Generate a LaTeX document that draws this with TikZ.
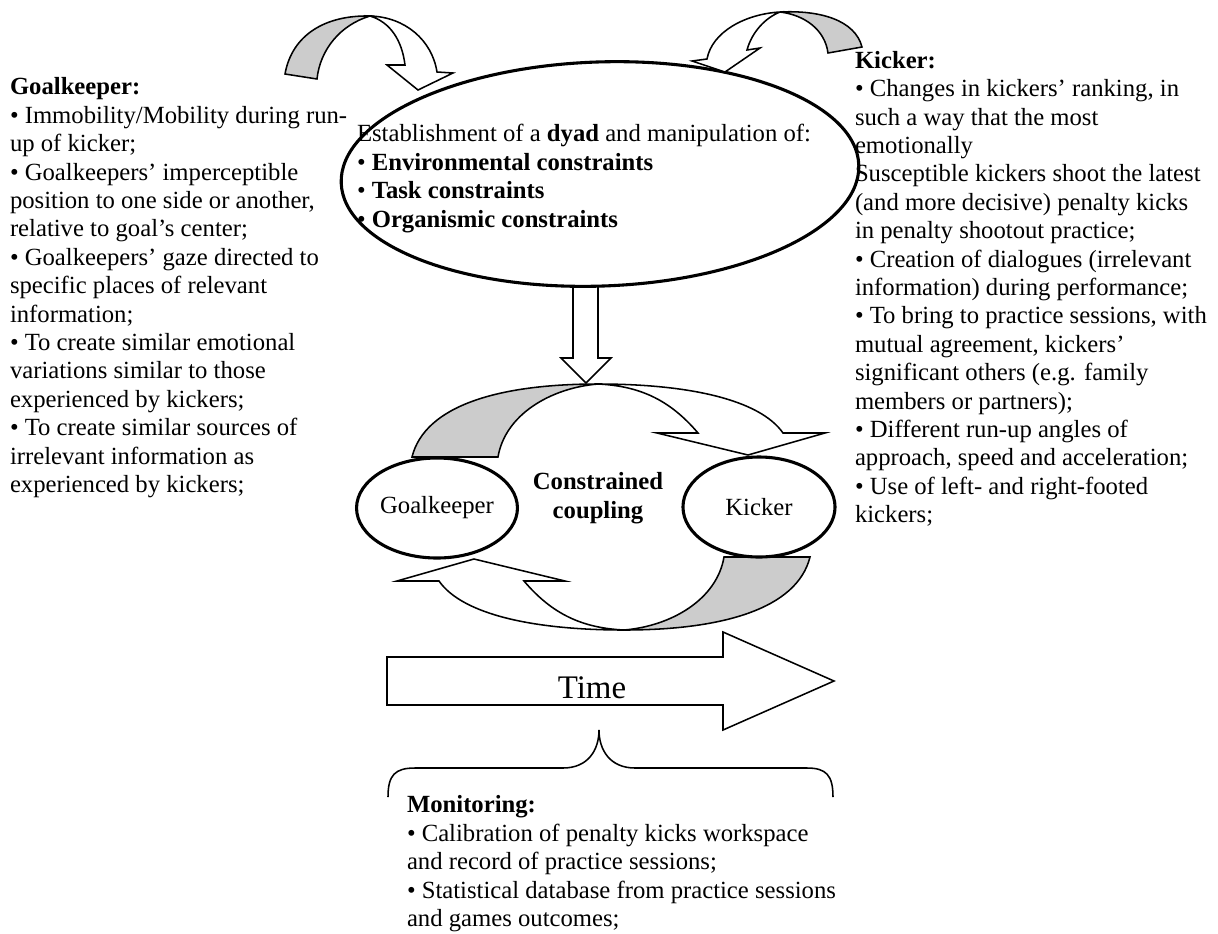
\documentclass[tikz,border=0pt]{standalone}
\usepackage{fontspec}
\setmainfont{Liberation Serif}
\usetikzlibrary{shapes.geometric}
\newcommand\cplarrow{%
  \draw[back] (412,457) .. controls (425,405) and (500,384) .. (598,384) .. controls (550,388) and (505,415) .. (498,457) -- cycle;
  \draw[blk] (598,384) .. controls (690,384) and (760,400) .. (783,433) -- (825,433) -- (748,455) -- (657,433) -- (698,433) .. controls (670,400) and (640,386) .. (598,384) -- cycle;
}
\begin{document}
\begin{tikzpicture}[x=0.486pt,y=-0.486pt,
  txt/.style={inner sep=0pt, outer sep=0pt, align=left, anchor=north west, font=\fontsize{12}{13.8}\selectfont},
  ell/.style={draw, ellipse, line width=1.5pt, fill=white, inner sep=0pt, font=\fontsize{12}{13.8}\selectfont},
  blk/.style={draw, line width=0.75pt, fill=white, line join=miter},
  back/.style={draw, line width=0.75pt, fill=black!20},
  brace/.style={draw, line width=0.75pt}
]
\useasboundingbox (0,0) rectangle (1218,933);

% down block arrow
\draw[blk] (573,270) -- (573,358) -- (561,358) -- (586,383) -- (611,358) -- (598,358) -- (598,270) -- cycle;

% big ellipse
\node[ell, minimum width=251.7pt, minimum height=108.9pt, rotate=2] (dyad) at (600,174) {};
\node[txt] (dyadtext) at (357,122.1) {\strut Establishment of a \textbf{dyad} and manipulation of:\\
• \textbf{Environmental constraints}\\
• \textbf{Task constraints}\\
• \textbf{Organismic constraints}};

% top-left curved arrow
\draw[back] (285,74) .. controls (292,35) and (325,15) .. (370,16) .. controls (340,25) and (320,50) .. (317,79) -- cycle;
\draw[blk] (370,16) .. controls (405,17) and (432,40) .. (437,72) -- (453,73) -- (418,90) -- (387,65) -- (405,65) .. controls (402,40) and (390,22) .. (370,16) -- cycle;

% top-right curved arrow
\draw[back] (862,47) .. controls (855,20) and (820,10) .. (780,12) .. controls (805,15) and (825,30) .. (828,53) -- cycle;
\draw[blk] (780,12) .. controls (745,14) and (712,32) .. (707,59) -- (692,61) -- (725,72) -- (760,48) -- (747,50) .. controls (752,32) and (765,18) .. (780,12) -- cycle;

% coupling arrows
\cplarrow
\begin{scope}[rotate around={180:(611,507)}]
\cplarrow
\end{scope}

% small ellipses
\node[ell, minimum width=72.9pt, minimum height=48.6pt] (gk) at (437,508) {Goalkeeper};
\node[ell, minimum width=73.9pt, minimum height=48.6pt] (kk) at (759,507) {Kicker};
\node[txt, anchor=north, align=center, font=\fontsize{12}{13.8}\selectfont\bfseries] (cc) at (598,470.1) {\strut Constrained\\ coupling};

% time arrow
\draw[blk] (387,657) -- (723,657) -- (723,632) -- (834,681) -- (723,730) -- (723,705) -- (387,705) -- cycle;
\node[inner sep=0pt, anchor=base, font=\fontsize{16}{19}\selectfont] (time) at (592,698) {Time};

% brace
\draw[brace] (388,797) .. controls (388,775) and (395,768) .. (415,768) -- (563,768) .. controls (588,768) and (599,750) .. (599,730) .. controls (599,750) and (610,768) .. (635,768) -- (807,768) .. controls (826,768) and (833,775) .. (833,797);

% text blocks
\node[txt] (gktext) at (10,75.1) {\strut\textbf{Goalkeeper:}\\
• Immobility/Mobility during run-\\
up of kicker;\\
• Goalkeepers’ imperceptible\\
position to one side or another,\\
relative to goal’s center;\\
• Goalkeepers’ gaze directed to\\
specific places of relevant\\
information;\\
• To create similar emotional\\
variations similar to those\\
experienced by kickers;\\
• To create similar sources of\\
irrelevant information as\\
experienced by kickers;};

\node[txt] (kktext) at (855,48.4) {\strut\textbf{Kicker:}\\
• Changes in kickers’ ranking, in\\
such a way that the most\\
emotionally\\
Susceptible kickers shoot the latest\\
(and more decisive) penalty kicks\\
in penalty shootout practice;\\
• Creation of dialogues (irrelevant\\
information) during performance;\\
• To bring to practice sessions, with\\
mutual agreement, kickers’\\
significant others (e.g. family\\
members or partners);\\
• Different run-up angles of\\
approach, speed and acceleration;\\
• Use of left- and right-footed\\
kickers;};

\node[txt] (montext) at (407,793.1) {\strut\textbf{Monitoring:}\\
• Calibration of penalty kicks workspace\\
and record of practice sessions;\\
• Statistical database from practice sessions\\
and games outcomes;};
\end{tikzpicture}
\end{document}
